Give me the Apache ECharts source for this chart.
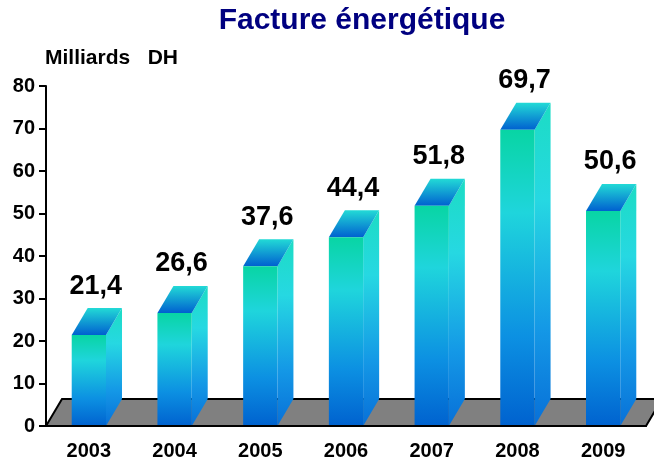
<!DOCTYPE html>
<html>
<head>
<meta charset="utf-8">
<script src="https://cdn.jsdelivr.net/npm/echarts@6/dist/echarts.min.js"></script>
<style>
  html, body { margin: 0; padding: 0; background: #fff; }
  #chart { width: 654px; height: 466px; }
</style>
</head>
<body>
<div id="chart"></div>
<script>
// données
const years = ['2003', '2004', '2005', '2006', '2007', '2008', '2009']
const values = [21.4, 26.6, 37.6, 44.4, 51.8, 69.7, 50.6]
const valueLabels = ['21,4', '26,6', '37,6', '44,4', '51,8', '69,7', '50,6']
const yMin = 0
const yMax = 80
const yStep = 10

const FONT = 'Liberation Sans, Arial, sans-serif'
const DX = 16 // profondeur 3D
const DY = 27

const chart = echarts.init(document.getElementById('chart'))

const frontColor = () => new echarts.graphic.LinearGradient(0, 0, 0, 1, [
  { offset: 0, color: '#08d5a4' },
  { offset: 0.28, color: '#1fd5dc' },
  { offset: 0.7, color: '#0c90e2' },
  { offset: 1, color: '#0062cf' }
])
const sideColor = () => new echarts.graphic.LinearGradient(0, 0, 0, 1, [
  { offset: 0, color: '#1cdcc4' },
  { offset: 0.3, color: '#26d8e2' },
  { offset: 0.7, color: '#1498e6' },
  { offset: 1, color: '#0870d8' }
])
const topColor = () => new echarts.graphic.LinearGradient(0, 0, 0, 1, [
  { offset: 0, color: '#22dad6' },
  { offset: 1, color: '#0060d0' }
])

// sol gris en perspective
function renderFloor(params, api) {
  const cs = params.coordSys
  const x0 = cs.x
  const y0 = cs.y + cs.height
  return {
    type: 'polygon',
    shape: {
      points: [
        [x0, y0], [x0 + DX, y0 - DY],
        [x0 + cs.width + DX, y0 - DY], [x0 + cs.width, y0]
      ]
    },
    style: { fill: '#808080', stroke: '#000', lineWidth: 2 },
    silent: true
  }
}

// barres 3D
function renderBar(params, api) {
  const idx = api.value(0)
  const base = api.coord([idx, 0])
  const top = api.coord([idx, api.value(1)])
  const band = api.size([1, 0])[0]
  const w = band * 0.4
  const xl = base[0] - w / 2
  const xr = base[0] + w / 2
  const yb = base[1]
  const yt = top[1]
  return {
    type: 'group',
    children: [
      {
        type: 'polygon',
        shape: { points: [[xr, yt], [xr + DX, yt - DY], [xr + DX, yb - DY], [xr, yb]] },
        style: { fill: sideColor() }
      },
      {
        type: 'polygon',
        shape: { points: [[xl, yt], [xl + DX, yt - DY], [xr + DX, yt - DY], [xr, yt]] },
        style: { fill: topColor() }
      },
      {
        type: 'rect',
        shape: { x: xl, y: yt, width: w, height: yb - yt },
        style: { fill: frontColor() }
      },
      {
        type: 'text',
        x: base[0] + 7,
        y: yt - DY - 22,
        style: {
          text: valueLabels[params.dataIndex],
          align: 'center',
          verticalAlign: 'middle',
          fill: '#000',
          font: 'bold 27px ' + FONT
        }
      }
    ]
  }
}

chart.setOption({
  animation: false,
  grid: { left: 46, right: 8, top: 86, bottom: 40 },
  graphic: [
    {
      type: 'text',
      x: 362,
      y: 21,
      style: {
        text: 'Facture énergétique',
        align: 'center',
        verticalAlign: 'middle',
        fill: '#000080',
        font: 'bold 30px ' + FONT
      }
    },
    {
      type: 'text',
      x: 45,
      y: 58,
      style: {
        text: 'Milliards   DH',
        align: 'left',
        verticalAlign: 'middle',
        fill: '#000',
        font: 'bold 21px ' + FONT
      }
    }
  ],
  xAxis: {
    type: 'category',
    data: years,
    axisLine: { lineStyle: { color: '#000', width: 2 } },
    axisTick: { length: 8, lineStyle: { color: '#000', width: 2 } },
    axisLabel: { color: '#000', fontFamily: FONT, fontWeight: 'bold', fontSize: 20, margin: 15 },
    z: 10
  },
  yAxis: {
    type: 'value',
    min: yMin,
    max: yMax,
    interval: yStep,
    axisLine: { show: true, lineStyle: { color: '#000', width: 2 } },
    axisTick: { show: true, length: 7, lineStyle: { color: '#000', width: 2 } },
    axisLabel: { color: '#000', fontFamily: FONT, fontWeight: 'bold', fontSize: 20, margin: 11 },
    splitLine: { show: false },
    z: 10
  },
  series: [
    {
      type: 'custom',
      renderItem: renderFloor,
      data: [[0]],
      clip: false,
      z: 1
    },
    {
      type: 'custom',
      renderItem: renderBar,
      data: values.map((v, i) => [i, v]),
      clip: false,
      z: 2
    }
  ]
})
</script>
</body>
</html>
